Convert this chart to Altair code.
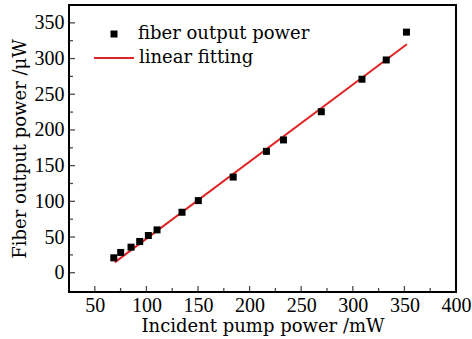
import altair as alt
import pandas as pd

# data
pump_x = [68.4, 75.1, 85.1, 93.5, 101.9, 110.3, 134.5, 150.3, 184.1, 216.3, 232.8, 269.5, 308.9, 332.4, 352.0]
power_y = [20.9, 28.4, 35.8, 43.8, 52.1, 60.0, 84.7, 101.0, 134.0, 170.0, 186.0, 225.5, 271.0, 298.0, 337.0]
fit_x = [69.3, 352.4]
fit_y = [14.5, 320.0]
x_major = [50, 100, 150, 200, 250, 300, 350, 400]
x_minor = [75, 125, 175, 225, 275, 325, 375]
y_major = [0, 50, 100, 150, 200, 250, 300, 350]
y_minor = [25, 75, 125, 175, 225, 275, 325]

W, H = 387, 287
FONT = "DejaVu Serif"
LFONT = "Liberation Serif"
XDOM = [25, 400]
YDOM = [-27, 375]

pts = pd.DataFrame({"x": pump_x, "y": power_y, "s": "fiber output power"})
fit = pd.DataFrame({"x": fit_x, "y": fit_y, "s": "linear fitting"})

xs = alt.Scale(domain=XDOM, nice=False, zero=False)
ys = alt.Scale(domain=YDOM, nice=False, zero=False)

common = dict(ticks=False, grid=False, domain=False, labelFlush=False,
              labelFont=LFONT, labelFontSize=20, labelColor="black",
              titleFont=FONT, titleFontSize=18, titleFontWeight="normal", titleColor="black")
xaxis = alt.Axis(values=x_major, title="Incident pump power /mW", labelPadding=3, titlePadding=2, **common)
yaxis = alt.Axis(values=y_major, title="Fiber output power /μW", labelPadding=5, titlePadding=5, **common)

points = alt.Chart(pts).mark_square(size=49, opacity=1).encode(
    x=alt.X("x:Q", scale=xs, axis=xaxis),
    y=alt.Y("y:Q", scale=ys, axis=yaxis),
    fill=alt.Fill("s:N", scale=alt.Scale(domain=["fiber output power"], range=["black"]),
                  legend=alt.Legend(orient="none", legendX=36, legendY=20, title=None,
                                    symbolType="square", symbolSize=49, labelFont=FONT,
                                    labelFontSize=18, labelColor="black", labelOffset=15,
                                    labelLimit=0, padding=0, symbolStrokeWidth=0)),
)

line = alt.Chart(fit).mark_line(strokeWidth=2).encode(
    x=alt.X("x:Q", scale=xs, axis=xaxis),
    y=alt.Y("y:Q", scale=ys, axis=yaxis),
    stroke=alt.Stroke("s:N", scale=alt.Scale(domain=["linear fitting"], range=["#e02424"]),
                      legend=alt.Legend(orient="none", legendX=24, legendY=32, title=None,
                                        symbolType="stroke", symbolSize=1600, symbolStrokeWidth=2,
                                        labelFont=FONT, labelFontSize=18, labelColor="black",
                                        labelOffset=4, labelLimit=0, padding=0)),
)

xt_major = alt.Chart(pd.DataFrame({"v": x_major})).mark_tick(
    orient="vertical", size=6, thickness=1.3, color="black").encode(
    x=alt.X("v:Q", scale=xs, axis=xaxis), y=alt.value(H - 3))
xt_minor = alt.Chart(pd.DataFrame({"v": x_minor})).mark_tick(
    orient="vertical", size=4, thickness=1.3, color="black").encode(
    x=alt.X("v:Q", scale=xs, axis=xaxis), y=alt.value(H - 2))
yt_major = alt.Chart(pd.DataFrame({"v": y_major})).mark_tick(
    orient="horizontal", size=6, thickness=1.3, color="black").encode(
    y=alt.Y("v:Q", scale=ys, axis=yaxis), x=alt.value(3))
yt_minor = alt.Chart(pd.DataFrame({"v": y_minor})).mark_tick(
    orient="horizontal", size=4, thickness=1.3, color="black").encode(
    y=alt.Y("v:Q", scale=ys, axis=yaxis), x=alt.value(2))

chart = alt.layer(xt_major, xt_minor, yt_major, yt_minor, line, points).resolve_legend(
    fill="independent", stroke="independent"
).properties(
    width=W, height=H,
    autosize=alt.AutoSizeParams(type="none"),
    padding={"left": 69, "top": 5, "right": 16, "bottom": 47},
    background="white",
).configure_view(stroke="black", strokeWidth=2)

chart.save("out.html", embed_options={"renderer": "svg", "actions": False})
